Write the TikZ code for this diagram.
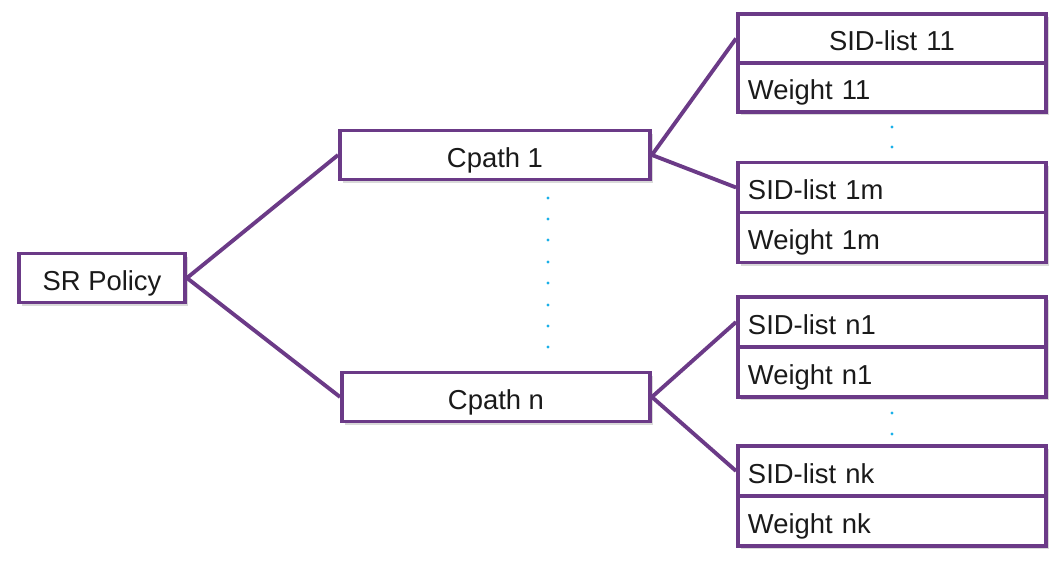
\documentclass[tikz,border=0pt]{standalone}
\usepackage{fontspec}
\setmainfont{Liberation Sans}
\usepackage{tikz}
\usetikzlibrary{shadows}
\definecolor{mypurple}{HTML}{6B3A87}
\definecolor{mydot}{HTML}{1AB0E8}
\definecolor{mytext}{HTML}{1A1A1A}

\tikzset{
  box/.style={draw=mypurple,line width=1.1pt,fill=white,inner sep=0pt,
    minimum height=0.49cm,text=mytext,font=\fontsize{7.8}{9}\selectfont,
    text height=1.65ex,text depth=0.35ex,
    drop shadow={opacity=0.3,shadow xshift=0.03cm,shadow yshift=-0.035cm}},
  cell/.style={box,text width=2.88cm,inner xsep=0.1cm,align=left},
  link/.style={draw=mypurple,line width=1.1pt}
}

\begin{document}
\begin{tikzpicture}
\useasboundingbox (0,0) rectangle (10.61,5.66);

\node[box,minimum width=1.66cm] (pol) at (1.02,2.88) {SR Policy};
\node[box,minimum width=3.10cm] (cp1) at (4.95,4.11) {Cpath 1};
\node[box,minimum width=3.08cm] (cpn) at (4.96,1.69) {Cpath n};

\node[cell,align=center] (s11) at (8.92,5.275) {SID-list 11};
\node[cell] (w11) at (8.92,4.785) {Weight 11};
\node[cell,minimum height=0.5cm] (s1m) at (8.92,3.785) {SID-list 1m};
\node[cell,minimum height=0.5cm] (w1m) at (8.92,3.285) {Weight 1m};
\node[cell,minimum height=0.5cm] (sn1) at (8.92,2.44) {SID-list n1};
\node[cell,minimum height=0.5cm] (wn1) at (8.92,1.94) {Weight n1};
\node[cell,minimum height=0.5cm] (snk) at (8.92,0.95) {SID-list nk};
\node[cell,minimum height=0.5cm] (wnk) at (8.92,0.45) {Weight nk};

\draw[link] (pol.east) -- (cp1.west);
\draw[link] (pol.east) -- (cpn.west);
\draw[link] (cp1.east) -- (s11.west);
\draw[link] (cp1.east) -- (s1m.west);
\draw[link] (cpn.east) -- (sn1.west);
\draw[link] (cpn.east) -- (snk.west);

% dots
\foreach \y in {3.68,3.47,3.26,3.04,2.83,2.61,2.40,2.19}
    \fill[mydot] (5.48,\y) circle (0.016);
\foreach \y in {4.39,4.19}
    \fill[mydot] (8.92,\y) circle (0.016);
\foreach \y in {1.53,1.32}
    \fill[mydot] (8.92,\y) circle (0.016);
\end{tikzpicture}
\end{document}
